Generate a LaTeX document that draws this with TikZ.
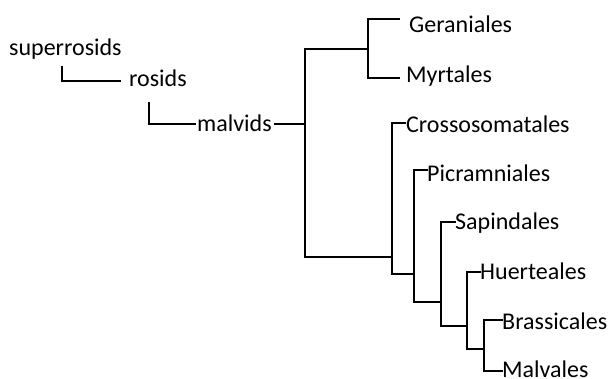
\documentclass[tikz,border=0pt]{standalone}
\usepackage{fontspec}
\setmainfont{Carlito}
\begin{document}
\begin{tikzpicture}[x=1pt,y=-1pt,
  branch/.style={line width=1.2pt, line cap=rect},
  lab/.style={anchor=base west, inner sep=0pt, font=\fontsize{24}{28}\selectfont}]
\useasboundingbox (0,0) rectangle (611,378);

% taxon labels
\node[lab] (sup) at (9,55)   {superrosids};
\node[lab] (ros) at (129,86) {rosids};
\node[lab] (mal) at (197,131){malvids};
\node[lab] (ger) at (409,32) {Geraniales};
\node[lab] (myr) at (406,82) {Myrtales};
\node[lab] (cro) at (406,132){Crossosomatales};
\node[lab] (pic) at (427,181){Picramniales};
\node[lab] (sap) at (455,229){Sapindales};
\node[lab] (hue) at (480,279){Huerteales};
\node[lab] (bra) at (502,329){Brassicales};
\node[lab] (mlv) at (502,377){Malvales};

% branch ends next to the labels
\coordinate (supE) at (62,67);
\coordinate (rosE) at (120,81);
\coordinate (rosS) at (149,103);
\coordinate (malE) at (195,124);
\coordinate (malR) at (275,124);
\coordinate (gerE) at (399,19);
\coordinate (myrE) at (399,78);
\coordinate (croE) at (405,123);
\coordinate (picE) at (427,170);
\coordinate (sapE) at (455,222);
\coordinate (hueE) at (480,272);
\coordinate (braE) at (502,320);
\coordinate (mlvE) at (502,371);

% internal nodes of the tree
\coordinate (root) at (305,124);
\coordinate (nA)   at (368,49);
\coordinate (nB)   at (392,257);
\coordinate (nC)   at (414,274);
\coordinate (nD)   at (441,302);
\coordinate (nE)   at (467,326);
\coordinate (nF)   at (484,349);

% rank brackets
\draw[branch] (supE) |- (rosE);
\draw[branch] (rosS) |- (malE);

% malvids stem and first split
\draw[branch] (malR) -- (root);
\draw[branch] (nA) -| (root) |- (nB);
\draw[branch] (gerE) -| (nA) |- (myrE);

% nested clades
\draw[branch] (croE) -| (nB) |- (nC);
\draw[branch] (picE) -| (nC) |- (nD);
\draw[branch] (sapE) -| (nD) |- (nE);
\draw[branch] (hueE) -| (nE) |- (nF);
\draw[branch] (braE) -| (nF) |- (mlvE);
\end{tikzpicture}
\end{document}
